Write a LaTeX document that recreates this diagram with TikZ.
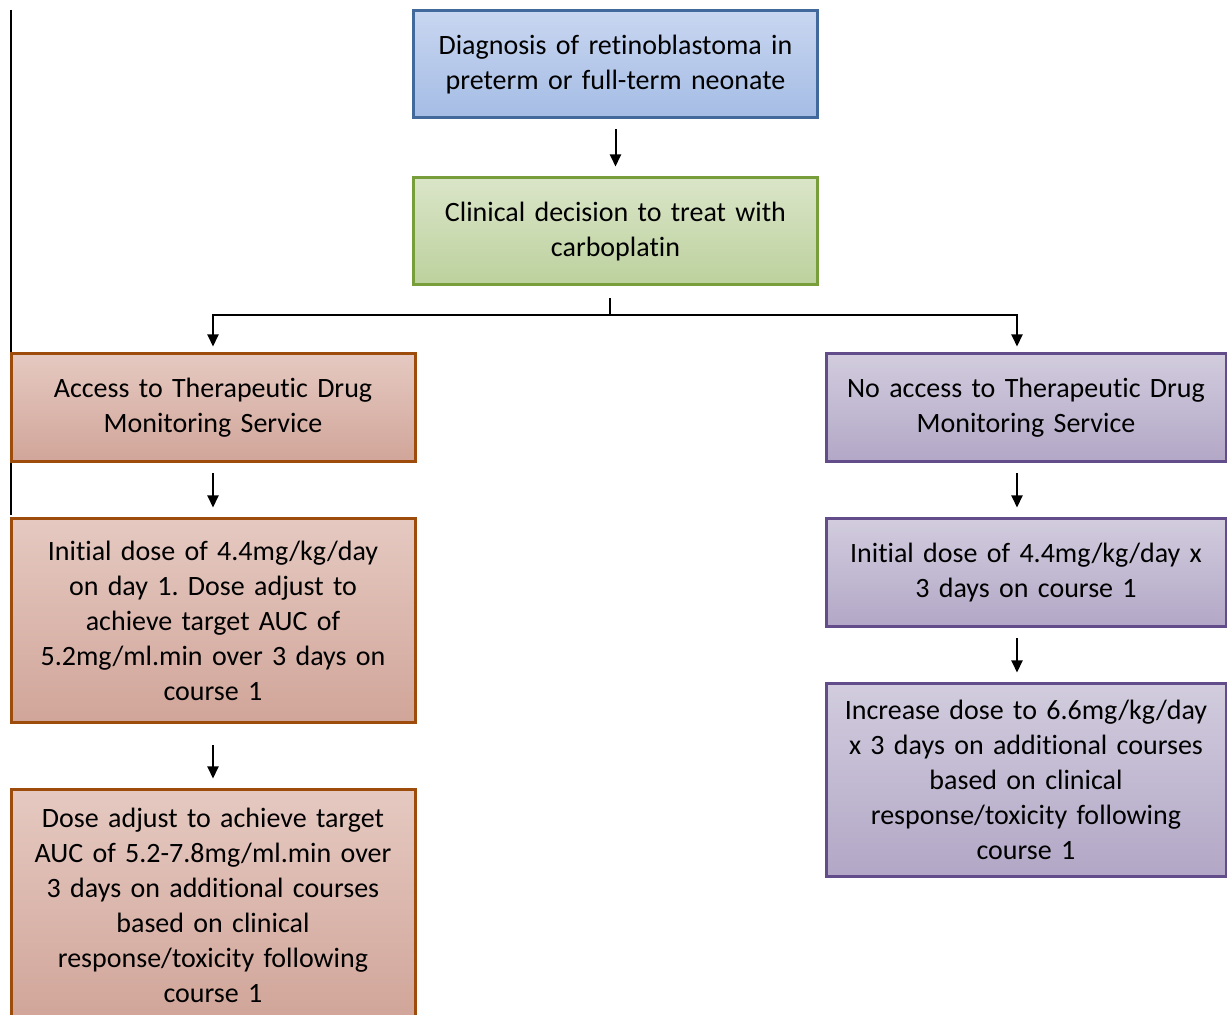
\documentclass[tikz,border=0pt]{standalone}
\usepackage{fontspec}
\setmainfont{Carlito}[Ligatures=NoCommon]
\frenchspacing
\usetikzlibrary{arrows.meta,positioning}

\definecolor{bluedraw}{HTML}{41699C}
\definecolor{bluetop}{HTML}{C8D6F0}
\definecolor{bluebot}{HTML}{A5BCE5}
\definecolor{greendraw}{HTML}{779E3A}
\definecolor{greentop}{HTML}{DAE5C8}
\definecolor{greenbot}{HTML}{BCD19D}
\definecolor{browndraw}{HTML}{9E4C0C}
\definecolor{browntop}{HTML}{E5C9C1}
\definecolor{brownbot}{HTML}{D1A599}
\definecolor{purpledraw}{HTML}{634C8A}
\definecolor{purpletop}{HTML}{D2CCDE}
\definecolor{purplebot}{HTML}{B2A7C6}

\begin{document}
\begin{tikzpicture}
  [box/.style={rectangle, line width=1.5pt, minimum width=202pt,
    text width=198pt, align=center, inner sep=0pt,
    font=\fontsize{14}{17.5}\selectfont},
  bluebox/.style={box, draw=bluedraw, top color=bluetop,
    bottom color=bluebot},
  greenbox/.style={box, draw=greendraw, top color=greentop,
    bottom color=greenbot},
  brownbox/.style={box, draw=browndraw, top color=browntop,
    bottom color=brownbot},
  purplebox/.style={box, minimum width=200pt, draw=purpledraw,
    top color=purpletop, bottom color=purplebot},
  line/.style={draw, line width=1pt,
    -{Triangle[width=5.5pt,length=6pt]}, shorten <=5pt,
    shorten >=5pt}]
  \useasboundingbox (0,0) rectangle (613.5pt,-507.5pt);
  \draw [line width=0.75pt] (5.5pt,-5pt) -- (5.5pt,-257.5pt);
  % top of the chart
  \node [bluebox, minimum height=53.5pt] (diagnosis) at
  (307.75pt,-32.25pt) {Diagnosis of retinoblastoma in\\ preterm or
    full-term neonate};
  \node [greenbox, minimum height=53.5pt, below=28.5pt of diagnosis]
  (decision) {Clinical decision to treat with\\ carboplatin};
  % left branch
  \node [brownbox, minimum height=54pt] (access) at (106.5pt,-204pt)
  {Access to Therapeutic Drug\\ Monitoring Service};
  \node [brownbox, minimum height=102pt, below=27pt of access]
  (tdmdose) {Initial dose of 4.4mg/kg/day\\ on day 1. Dose adjust
    to\\ achieve target AUC of\\ 5.2mg/ml.min over 3 days on\\ course
    1};
  \node [brownbox, minimum height=115pt, below=32pt of tdmdose]
  (tdmadjust) {Dose adjust to achieve target\\ AUC of
    5.2-7.8mg/ml.min over\\ 3 days on additional courses\\ based on
    clinical\\ response/toxicity following\\ course 1};
  % right branch
  \node [purplebox, minimum height=54pt] (noaccess) at (513pt,-204pt)
  {No access to Therapeutic Drug\\ Monitoring Service};
  \node [purplebox, minimum height=54pt, below=27pt of noaccess]
  (fixeddose) {Initial dose of 4.4mg/kg/day x\\ 3 days on course 1};
  \node [purplebox, minimum height=96pt, below=27pt of fixeddose]
  (increase) {Increase dose to 6.6mg/kg/day\\ x 3 days on additional
    courses\\ based on clinical\\ response/toxicity following\\ course
    1};
  \coordinate [below=14.5pt of decision, xshift=-3pt] (fork);
  \draw [line width=1pt] ([xshift=-3pt,yshift=-6pt]decision.south) --
  (fork);
  \begin{scope}[every path/.style=line]
    \path (diagnosis) -- (decision); \path (access) -- (tdmdose);
    \path [shorten <=10.5pt] (tdmdose) -- (tdmadjust);
    \path ([xshift=-4.5pt]noaccess.south) --
    ([xshift=-4.5pt]fixeddose.north); \path
    ([xshift=-4.5pt]fixeddose.south) -- ([xshift=-4.5pt]increase.north);
    \path [shorten <=0pt, shorten >=3pt] (fork) -| (access.north);
    \path [shorten <=0pt, shorten >=3pt] (fork) -|
    ([xshift=-4.5pt]noaccess.north);
  \end{scope}
\end{tikzpicture}
\end{document}
